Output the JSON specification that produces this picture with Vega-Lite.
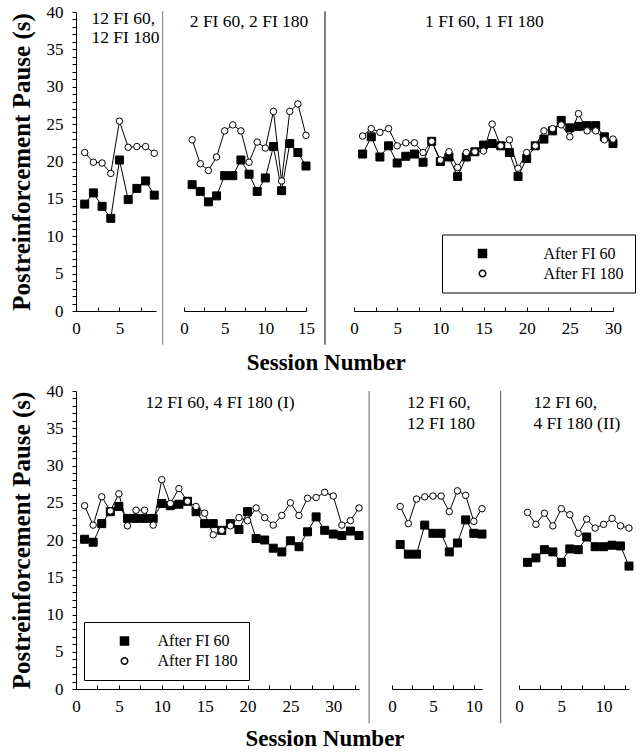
{
"$schema": "https://vega.github.io/schema/vega-lite/v6.json",
"padding": {"left": 8, "top": 3, "right": 5, "bottom": 5},
"background": "white",
"config": {
  "view": {"stroke": null},
  "font": "Liberation Serif",
  "axis": {"grid": false, "domainColor": "black", "tickColor": "black", "labelColor": "black", "labelFont": "Liberation Serif", "labelFontSize": 17, "labelFlush": false, "labelOverlap": false, "domainWidth": 1, "tickWidth": 1}
},
"datasets": {
"p1": [
{"session":1,"series":"After FI 60","pause":14.3},{"session":2,"series":"After FI 60","pause":15.8},{"session":3,"series":"After FI 60","pause":14.0},{"session":4,"series":"After FI 60","pause":12.4},{"session":5,"series":"After FI 60","pause":20.2},{"session":6,"series":"After FI 60","pause":14.9},{"session":7,"series":"After FI 60","pause":16.4},{"session":8,"series":"After FI 60","pause":17.4},{"session":9,"series":"After FI 60","pause":15.5},
{"session":1,"series":"After FI 180","pause":21.2},{"session":2,"series":"After FI 180","pause":19.9},{"session":3,"series":"After FI 180","pause":19.8},{"session":4,"series":"After FI 180","pause":18.4},{"session":5,"series":"After FI 180","pause":25.4},{"session":6,"series":"After FI 180","pause":21.9},{"session":7,"series":"After FI 180","pause":22.0},{"session":8,"series":"After FI 180","pause":22.0},{"session":9,"series":"After FI 180","pause":21.1}
],
"p2": [
{"session":1,"series":"After FI 60","pause":16.9},{"session":2,"series":"After FI 60","pause":16.0},{"session":3,"series":"After FI 60","pause":14.6},{"session":4,"series":"After FI 60","pause":15.4},{"session":5,"series":"After FI 60","pause":18.1},{"session":6,"series":"After FI 60","pause":18.1},{"session":7,"series":"After FI 60","pause":20.2},{"session":8,"series":"After FI 60","pause":18.3},{"session":9,"series":"After FI 60","pause":16.0},{"session":10,"series":"After FI 60","pause":17.8},{"session":11,"series":"After FI 60","pause":22.0},{"session":12,"series":"After FI 60","pause":16.1},{"session":13,"series":"After FI 60","pause":22.4},{"session":14,"series":"After FI 60","pause":21.2},{"session":15,"series":"After FI 60","pause":19.4},
{"session":1,"series":"After FI 180","pause":22.9},{"session":2,"series":"After FI 180","pause":19.7},{"session":3,"series":"After FI 180","pause":18.8},{"session":4,"series":"After FI 180","pause":20.6},{"session":5,"series":"After FI 180","pause":24.1},{"session":6,"series":"After FI 180","pause":24.9},{"session":7,"series":"After FI 180","pause":24.1},{"session":8,"series":"After FI 180","pause":19.9},{"session":9,"series":"After FI 180","pause":22.6},{"session":10,"series":"After FI 180","pause":21.8},{"session":11,"series":"After FI 180","pause":26.7},{"session":12,"series":"After FI 180","pause":17.4},{"session":13,"series":"After FI 180","pause":26.7},{"session":14,"series":"After FI 180","pause":27.7},{"session":15,"series":"After FI 180","pause":23.5}
],
"p3": [
{"session":1,"series":"After FI 60","pause":21.0},{"session":2,"series":"After FI 60","pause":23.3},{"session":3,"series":"After FI 60","pause":20.6},{"session":4,"series":"After FI 60","pause":22.1},{"session":5,"series":"After FI 60","pause":19.8},{"session":6,"series":"After FI 60","pause":20.7},{"session":7,"series":"After FI 60","pause":21.0},{"session":8,"series":"After FI 60","pause":19.9},{"session":9,"series":"After FI 60","pause":22.7},{"session":10,"series":"After FI 60","pause":20.0},{"session":11,"series":"After FI 60","pause":20.6},{"session":12,"series":"After FI 60","pause":18.0},{"session":13,"series":"After FI 60","pause":20.6},{"session":14,"series":"After FI 60","pause":21.3},{"session":15,"series":"After FI 60","pause":22.2},{"session":16,"series":"After FI 60","pause":22.4},{"session":17,"series":"After FI 60","pause":22.1},{"session":18,"series":"After FI 60","pause":21.2},{"session":19,"series":"After FI 60","pause":18.0},{"session":20,"series":"After FI 60","pause":20.4},{"session":21,"series":"After FI 60","pause":22.1},{"session":22,"series":"After FI 60","pause":23.0},{"session":23,"series":"After FI 60","pause":24.1},{"session":24,"series":"After FI 60","pause":25.5},{"session":25,"series":"After FI 60","pause":24.5},{"session":26,"series":"After FI 60","pause":24.7},{"session":27,"series":"After FI 60","pause":24.8},{"session":28,"series":"After FI 60","pause":24.8},{"session":29,"series":"After FI 60","pause":23.3},{"session":30,"series":"After FI 60","pause":22.4},
{"session":1,"series":"After FI 180","pause":23.4},{"session":2,"series":"After FI 180","pause":24.4},{"session":3,"series":"After FI 180","pause":23.9},{"session":4,"series":"After FI 180","pause":24.4},{"session":5,"series":"After FI 180","pause":22.1},{"session":6,"series":"After FI 180","pause":22.5},{"session":7,"series":"After FI 180","pause":22.5},{"session":8,"series":"After FI 180","pause":21.2},{"session":9,"series":"After FI 180","pause":22.7},{"session":10,"series":"After FI 180","pause":20.2},{"session":11,"series":"After FI 180","pause":21.3},{"session":12,"series":"After FI 180","pause":19.2},{"session":13,"series":"After FI 180","pause":21.2},{"session":14,"series":"After FI 180","pause":21.3},{"session":15,"series":"After FI 180","pause":21.4},{"session":16,"series":"After FI 180","pause":25.0},{"session":17,"series":"After FI 180","pause":22.1},{"session":18,"series":"After FI 180","pause":22.9},{"session":19,"series":"After FI 180","pause":19.1},{"session":20,"series":"After FI 180","pause":21.2},{"session":21,"series":"After FI 180","pause":22.1},{"session":22,"series":"After FI 180","pause":24.1},{"session":23,"series":"After FI 180","pause":24.4},{"session":24,"series":"After FI 180","pause":24.9},{"session":25,"series":"After FI 180","pause":23.3},{"session":26,"series":"After FI 180","pause":26.4},{"session":27,"series":"After FI 180","pause":24.1},{"session":28,"series":"After FI 180","pause":24.1},{"session":29,"series":"After FI 180","pause":22.9},{"session":30,"series":"After FI 180","pause":23.0}
],
"p4": [
{"session":1,"series":"After FI 60","pause":20.1},{"session":2,"series":"After FI 60","pause":19.7},{"session":3,"series":"After FI 60","pause":22.2},{"session":4,"series":"After FI 60","pause":23.8},{"session":5,"series":"After FI 60","pause":24.5},{"session":6,"series":"After FI 60","pause":22.9},{"session":7,"series":"After FI 60","pause":22.9},{"session":8,"series":"After FI 60","pause":22.9},{"session":9,"series":"After FI 60","pause":22.9},{"session":10,"series":"After FI 60","pause":24.9},{"session":11,"series":"After FI 60","pause":24.6},{"session":12,"series":"After FI 60","pause":24.8},{"session":13,"series":"After FI 60","pause":25.2},{"session":14,"series":"After FI 60","pause":23.8},{"session":15,"series":"After FI 60","pause":22.2},{"session":16,"series":"After FI 60","pause":22.2},{"session":17,"series":"After FI 60","pause":21.3},{"session":18,"series":"After FI 60","pause":22.2},{"session":19,"series":"After FI 60","pause":21.4},{"session":20,"series":"After FI 60","pause":23.8},{"session":21,"series":"After FI 60","pause":20.2},{"session":22,"series":"After FI 60","pause":20.0},{"session":23,"series":"After FI 60","pause":18.9},{"session":24,"series":"After FI 60","pause":18.4},{"session":25,"series":"After FI 60","pause":19.9},{"session":26,"series":"After FI 60","pause":19.1},{"session":27,"series":"After FI 60","pause":21.1},{"session":28,"series":"After FI 60","pause":23.1},{"session":29,"series":"After FI 60","pause":21.3},{"session":30,"series":"After FI 60","pause":20.8},{"session":31,"series":"After FI 60","pause":20.6},{"session":32,"series":"After FI 60","pause":21.2},{"session":33,"series":"After FI 60","pause":20.6},
{"session":1,"series":"After FI 180","pause":24.6},{"session":2,"series":"After FI 180","pause":22.0},{"session":3,"series":"After FI 180","pause":25.8},{"session":4,"series":"After FI 180","pause":23.9},{"session":5,"series":"After FI 180","pause":26.2},{"session":6,"series":"After FI 180","pause":21.9},{"session":7,"series":"After FI 180","pause":24.0},{"session":8,"series":"After FI 180","pause":24.0},{"session":9,"series":"After FI 180","pause":22.0},{"session":10,"series":"After FI 180","pause":28.1},{"session":11,"series":"After FI 180","pause":24.9},{"session":12,"series":"After FI 180","pause":26.9},{"session":13,"series":"After FI 180","pause":25.2},{"session":14,"series":"After FI 180","pause":24.5},{"session":15,"series":"After FI 180","pause":23.6},{"session":16,"series":"After FI 180","pause":20.7},{"session":17,"series":"After FI 180","pause":21.3},{"session":18,"series":"After FI 180","pause":21.9},{"session":19,"series":"After FI 180","pause":23.0},{"session":20,"series":"After FI 180","pause":22.6},{"session":21,"series":"After FI 180","pause":24.3},{"session":22,"series":"After FI 180","pause":23.0},{"session":23,"series":"After FI 180","pause":22.0},{"session":24,"series":"After FI 180","pause":23.3},{"session":25,"series":"After FI 180","pause":25.0},{"session":26,"series":"After FI 180","pause":23.3},{"session":27,"series":"After FI 180","pause":25.6},{"session":28,"series":"After FI 180","pause":25.7},{"session":29,"series":"After FI 180","pause":26.4},{"session":30,"series":"After FI 180","pause":25.9},{"session":31,"series":"After FI 180","pause":22.0},{"session":32,"series":"After FI 180","pause":22.6},{"session":33,"series":"After FI 180","pause":24.3}
],
"p5": [
{"session":1,"series":"After FI 60","pause":19.4},{"session":2,"series":"After FI 60","pause":18.1},{"session":3,"series":"After FI 60","pause":18.1},{"session":4,"series":"After FI 60","pause":22.0},{"session":5,"series":"After FI 60","pause":20.9},{"session":6,"series":"After FI 60","pause":20.9},{"session":7,"series":"After FI 60","pause":18.4},{"session":8,"series":"After FI 60","pause":19.6},{"session":9,"series":"After FI 60","pause":22.7},{"session":10,"series":"After FI 60","pause":20.9},{"session":11,"series":"After FI 60","pause":20.8},
{"session":1,"series":"After FI 180","pause":24.5},{"session":2,"series":"After FI 180","pause":22.2},{"session":3,"series":"After FI 180","pause":25.5},{"session":4,"series":"After FI 180","pause":25.8},{"session":5,"series":"After FI 180","pause":25.9},{"session":6,"series":"After FI 180","pause":25.9},{"session":7,"series":"After FI 180","pause":23.8},{"session":8,"series":"After FI 180","pause":26.6},{"session":9,"series":"After FI 180","pause":26.0},{"session":10,"series":"After FI 180","pause":22.5},{"session":11,"series":"After FI 180","pause":24.2}
],
"p6": [
{"session":1,"series":"After FI 60","pause":17.0},{"session":2,"series":"After FI 60","pause":17.6},{"session":3,"series":"After FI 60","pause":18.7},{"session":4,"series":"After FI 60","pause":18.4},{"session":5,"series":"After FI 60","pause":17.0},{"session":6,"series":"After FI 60","pause":18.8},{"session":7,"series":"After FI 60","pause":18.7},{"session":8,"series":"After FI 60","pause":20.4},{"session":9,"series":"After FI 60","pause":19.1},{"session":10,"series":"After FI 60","pause":19.1},{"session":11,"series":"After FI 60","pause":19.3},{"session":12,"series":"After FI 60","pause":19.2},{"session":13,"series":"After FI 60","pause":16.5},
{"session":1,"series":"After FI 180","pause":23.7},{"session":2,"series":"After FI 180","pause":22.1},{"session":3,"series":"After FI 180","pause":23.6},{"session":4,"series":"After FI 180","pause":21.9},{"session":5,"series":"After FI 180","pause":24.2},{"session":6,"series":"After FI 180","pause":23.4},{"session":7,"series":"After FI 180","pause":20.9},{"session":8,"series":"After FI 180","pause":22.8},{"session":9,"series":"After FI 180","pause":21.6},{"session":10,"series":"After FI 180","pause":22.1},{"session":11,"series":"After FI 180","pause":22.9},{"session":12,"series":"After FI 180","pause":21.9},{"session":13,"series":"After FI 180","pause":21.6}
]
},
"spacing": 7,
"resolve": {"scale": {"shape": "independent", "fill": "independent", "size": "independent"}, "legend": {"shape": "independent", "fill": "independent", "size": "independent"}},
"vconcat": [
{
 "bounds": "flush",
 "spacing": 28,
 "resolve": {"scale": {"shape": "independent", "fill": "independent", "size": "independent"}, "legend": {"shape": "independent", "fill": "independent", "size": "independent"}},
 "title": {"text": "Session Number", "orient": "bottom", "anchor": "middle", "offset": 6.6, "dx": 4, "font": "Liberation Serif", "fontSize": 23, "fontWeight": "bold", "color": "black"},
 "hconcat": [
  {
   "width": 80, "height": 299,
   "layer": [
     {"data": {"name": "p1"}, "mark": {"type": "line", "color": "black", "strokeWidth": 1},
      "encoding": {
        "x": {"field": "session", "type": "quantitative", "scale": {"domain": [0, 9.2], "nice": false, "zero": false}, "axis": {"title": null, "values": [0, 2.5, 5, 7.5], "labelExpr": "datum.value % 5 === 0 ? datum.label : ''", "labelOverlap": false, "tickSize": -4, "labelPadding": 13}},
        "y": {"field": "pause", "type": "quantitative", "scale": {"domain": [0, 40], "nice": false, "zero": false}, "axis": {"title": "Postreinforcement Pause (s)", "titleFont": "Liberation Serif", "titleFontSize": 25, "titleFontWeight": "bold", "titleColor": "black", "titlePadding": 12, "values": [0,1,2,3,4,5,6,7,8,9,10,11,12,13,14,15,16,17,18,19,20,21,22,23,24,25,26,27,28,29,30,31,32,33,34,35,36,37,38,39,40], "labelExpr": "datum.value % 5 === 0 ? datum.label : ''", "labelOverlap": false, "tickSize": 4, "labelPadding": 9}},
        "detail": {"field": "series"}}},
     {"data": {"name": "p1"}, "mark": {"type": "point", "filled": true, "stroke": "black", "strokeWidth": 1, "opacity": 1},
      "encoding": {
        "x": {"field": "session", "type": "quantitative", "axis": {"title": null, "values": [0, 2.5, 5, 7.5], "labelExpr": "datum.value % 5 === 0 ? datum.label : ''", "labelOverlap": false, "tickSize": -4, "labelPadding": 13}},
        "y": {"field": "pause", "type": "quantitative", "axis": {"title": "Postreinforcement Pause (s)", "titleFont": "Liberation Serif", "titleFontSize": 25, "titleFontWeight": "bold", "titleColor": "black", "titlePadding": 12, "values": [0,1,2,3,4,5,6,7,8,9,10,11,12,13,14,15,16,17,18,19,20,21,22,23,24,25,26,27,28,29,30,31,32,33,34,35,36,37,38,39,40], "labelExpr": "datum.value % 5 === 0 ? datum.label : ''", "labelOverlap": false, "tickSize": 4, "labelPadding": 9}},
        "shape": {"field": "series", "type": "nominal", "scale": {"domain": ["After FI 60", "After FI 180"], "range": ["square", "circle"]}, "legend": null},
        "fill": {"field": "series", "type": "nominal", "scale": {"domain": ["After FI 60", "After FI 180"], "range": ["black", "white"]}, "legend": null},
        "size": {"field": "series", "type": "ordinal", "scale": {"domain": ["After FI 60", "After FI 180"], "range": [64, 42]}, "legend": null}}},
     {"data": {"values": [{}]}, "mark": {"type": "text", "font": "Liberation Serif", "fontSize": 17.5, "align": "left", "baseline": "alphabetic", "color": "black", "lineHeight": 19},
      "encoding": {
        "x": {"datum": 1.78, "axis": {"title": null, "values": [0, 2.5, 5, 7.5], "labelExpr": "datum.value % 5 === 0 ? datum.label : ''", "labelOverlap": false, "tickSize": -4, "labelPadding": 13}},
        "y": {"datum": 38.4, "axis": {"title": "Postreinforcement Pause (s)", "titleFont": "Liberation Serif", "titleFontSize": 25, "titleFontWeight": "bold", "titleColor": "black", "titlePadding": 12, "values": [0,1,2,3,4,5,6,7,8,9,10,11,12,13,14,15,16,17,18,19,20,21,22,23,24,25,26,27,28,29,30,31,32,33,34,35,36,37,38,39,40], "labelExpr": "datum.value % 5 === 0 ? datum.label : ''", "labelOverlap": false, "tickSize": 4, "labelPadding": 9}},
        "text": {"value": ["12 FI 60,", "12 FI 180"]}}}
   ]
  },
  {
   "bounds": "flush",
   "spacing": 48,
   "resolve": {"scale": {"shape": "independent", "fill": "independent", "size": "independent"}, "legend": {"shape": "independent", "fill": "independent", "size": "independent"}},
   "hconcat": [
    {
     "width": 122, "height": 299,
     "layer": [
       {"data": {"values": [{}]}, "mark": {"type": "rule", "color": "#777777", "strokeWidth": 1},
        "encoding": {"x": {"datum": -2.62, "axis": {"title": null, "values": [0, 2.5, 5, 7.5, 10, 12.5, 15], "labelExpr": "datum.value % 5 === 0 ? datum.label : ''", "labelOverlap": false, "tickSize": -4, "labelPadding": 13}}, "y": {"datum": 40.1, "axis": null}, "y2": {"datum": -4.5}}},
       {"data": {"name": "p2"}, "mark": {"type": "line", "color": "black", "strokeWidth": 1},
        "encoding": {
          "x": {"field": "session", "type": "quantitative", "scale": {"domain": [0, 15], "nice": false, "zero": false}, "axis": {"title": null, "values": [0, 2.5, 5, 7.5, 10, 12.5, 15], "labelExpr": "datum.value % 5 === 0 ? datum.label : ''", "labelOverlap": false, "tickSize": -4, "labelPadding": 13}},
          "y": {"field": "pause", "type": "quantitative", "scale": {"domain": [0, 40], "nice": false, "zero": false}, "axis": null},
          "detail": {"field": "series"}}},
       {"data": {"name": "p2"}, "mark": {"type": "point", "filled": true, "stroke": "black", "strokeWidth": 1, "opacity": 1},
        "encoding": {
          "x": {"field": "session", "type": "quantitative", "axis": {"title": null, "values": [0, 2.5, 5, 7.5, 10, 12.5, 15], "labelExpr": "datum.value % 5 === 0 ? datum.label : ''", "labelOverlap": false, "tickSize": -4, "labelPadding": 13}},
          "y": {"field": "pause", "type": "quantitative", "axis": null},
          "shape": {"field": "series", "type": "nominal", "scale": {"domain": ["After FI 60", "After FI 180"], "range": ["square", "circle"]}, "legend": null},
          "fill": {"field": "series", "type": "nominal", "scale": {"domain": ["After FI 60", "After FI 180"], "range": ["black", "white"]}, "legend": null},
          "size": {"field": "series", "type": "ordinal", "scale": {"domain": ["After FI 60", "After FI 180"], "range": [64, 42]}, "legend": null}}},
       {"data": {"values": [{}]}, "mark": {"type": "text", "font": "Liberation Serif", "fontSize": 17.5, "align": "center", "baseline": "alphabetic", "color": "black"},
        "encoding": {"x": {"datum": 8.0, "axis": {"title": null, "values": [0, 2.5, 5, 7.5, 10, 12.5, 15], "labelExpr": "datum.value % 5 === 0 ? datum.label : ''", "labelOverlap": false, "tickSize": -4, "labelPadding": 13}}, "y": {"datum": 38.0, "axis": null}, "text": {"value": "2 FI 60, 2 FI 180"}}}
     ]
    },
    {
     "width": 259, "height": 299,
     "layer": [
       {"data": {"values": [{}]}, "mark": {"type": "rule", "color": "black", "strokeWidth": 1},
        "encoding": {"x": {"datum": -3.36, "axis": {"title": null, "values": [0, 2.5, 5, 7.5, 10, 12.5, 15, 17.5, 20, 22.5, 25, 27.5, 30], "labelExpr": "datum.value % 5 === 0 ? datum.label : ''", "labelOverlap": false, "tickSize": -4, "labelPadding": 13}}, "y": {"datum": 40.1, "axis": null}, "y2": {"datum": -4.5}}},
       {"data": {"name": "p3"}, "mark": {"type": "line", "color": "black", "strokeWidth": 1},
        "encoding": {
          "x": {"field": "session", "type": "quantitative", "scale": {"domain": [0, 30], "nice": false, "zero": false}, "axis": {"title": null, "values": [0, 2.5, 5, 7.5, 10, 12.5, 15, 17.5, 20, 22.5, 25, 27.5, 30], "labelExpr": "datum.value % 5 === 0 ? datum.label : ''", "labelOverlap": false, "tickSize": -4, "labelPadding": 13}},
          "y": {"field": "pause", "type": "quantitative", "scale": {"domain": [0, 40], "nice": false, "zero": false}, "axis": null},
          "detail": {"field": "series"}}},
       {"data": {"name": "p3"}, "mark": {"type": "point", "filled": true, "stroke": "black", "strokeWidth": 1, "opacity": 1},
        "encoding": {
          "x": {"field": "session", "type": "quantitative", "axis": {"title": null, "values": [0, 2.5, 5, 7.5, 10, 12.5, 15, 17.5, 20, 22.5, 25, 27.5, 30], "labelExpr": "datum.value % 5 === 0 ? datum.label : ''", "labelOverlap": false, "tickSize": -4, "labelPadding": 13}},
          "y": {"field": "pause", "type": "quantitative", "axis": null},
          "shape": {"field": "series", "type": "nominal", "scale": {"domain": ["After FI 60", "After FI 180"], "range": ["square", "circle"]},
            "legend": {"orient": "none", "legendX": 88, "legendY": 222.5, "title": null, "strokeColor": "black", "padding": 11, "labelFont": "Liberation Serif", "labelFontSize": 16, "labelColor": "black", "symbolOffset": 21.5, "labelOffset": 53, "rowPadding": 4}},
          "fill": {"field": "series", "type": "nominal", "scale": {"domain": ["After FI 60", "After FI 180"], "range": ["black", "white"]},
            "legend": {"orient": "none", "legendX": 88, "legendY": 222.5, "title": null, "strokeColor": "black", "padding": 11, "labelFont": "Liberation Serif", "labelFontSize": 16, "labelColor": "black", "symbolOffset": 21.5, "labelOffset": 53, "rowPadding": 4}},
          "size": {"field": "series", "type": "ordinal", "scale": {"domain": ["After FI 60", "After FI 180"], "range": [64, 42]},
            "legend": {"orient": "none", "legendX": 88, "legendY": 222.5, "title": null, "strokeColor": "black", "padding": 11, "labelFont": "Liberation Serif", "labelFontSize": 16, "labelColor": "black", "symbolOffset": 21.5, "labelOffset": 53, "rowPadding": 4}}}},
       {"data": {"values": [{}]}, "mark": {"type": "text", "font": "Liberation Serif", "fontSize": 17.5, "align": "center", "baseline": "alphabetic", "color": "black"},
        "encoding": {"x": {"datum": 15.1, "axis": {"title": null, "values": [0, 2.5, 5, 7.5, 10, 12.5, 15, 17.5, 20, 22.5, 25, 27.5, 30], "labelExpr": "datum.value % 5 === 0 ? datum.label : ''", "labelOverlap": false, "tickSize": -4, "labelPadding": 13}}, "y": {"datum": 38.0, "axis": null}, "text": {"value": "1 FI 60, 1 FI 180"}}}
     ]
    }
   ]
  }
 ]
},
{
 "bounds": "flush",
 "spacing": 33,
 "resolve": {"scale": {"shape": "independent", "fill": "independent", "size": "independent"}, "legend": {"shape": "independent", "fill": "independent", "size": "independent"}},
 "title": {"text": "Session Number", "orient": "bottom", "anchor": "middle", "offset": 4, "dx": 3, "font": "Liberation Serif", "fontSize": 23, "fontWeight": "bold", "color": "black"},
 "hconcat": [
  {
   "width": 283, "height": 298,
   "layer": [
     {"data": {"name": "p4"}, "mark": {"type": "line", "color": "black", "strokeWidth": 1},
      "encoding": {
        "x": {"field": "session", "type": "quantitative", "scale": {"domain": [0, 33], "nice": false, "zero": false}, "axis": {"title": null, "values": [0, 2.5, 5, 7.5, 10, 12.5, 15, 17.5, 20, 22.5, 25, 27.5, 30, 32.5], "labelExpr": "datum.value % 5 === 0 ? datum.label : ''", "labelOverlap": false, "tickSize": -4, "labelPadding": 13}},
        "y": {"field": "pause", "type": "quantitative", "scale": {"domain": [0, 40], "nice": false, "zero": false}, "axis": {"title": "Postreinforcement Pause (s)", "titleFont": "Liberation Serif", "titleFontSize": 25, "titleFontWeight": "bold", "titleColor": "black", "titlePadding": 12, "values": [0,1,2,3,4,5,6,7,8,9,10,11,12,13,14,15,16,17,18,19,20,21,22,23,24,25,26,27,28,29,30,31,32,33,34,35,36,37,38,39,40], "labelExpr": "datum.value % 5 === 0 ? datum.label : ''", "labelOverlap": false, "tickSize": 4, "labelPadding": 9}},
        "detail": {"field": "series"}}},
     {"data": {"name": "p4"}, "mark": {"type": "point", "filled": true, "stroke": "black", "strokeWidth": 1, "opacity": 1},
      "encoding": {
        "x": {"field": "session", "type": "quantitative", "axis": {"title": null, "values": [0, 2.5, 5, 7.5, 10, 12.5, 15, 17.5, 20, 22.5, 25, 27.5, 30, 32.5], "labelExpr": "datum.value % 5 === 0 ? datum.label : ''", "labelOverlap": false, "tickSize": -4, "labelPadding": 13}},
        "y": {"field": "pause", "type": "quantitative", "axis": {"title": "Postreinforcement Pause (s)", "titleFont": "Liberation Serif", "titleFontSize": 25, "titleFontWeight": "bold", "titleColor": "black", "titlePadding": 12, "values": [0,1,2,3,4,5,6,7,8,9,10,11,12,13,14,15,16,17,18,19,20,21,22,23,24,25,26,27,28,29,30,31,32,33,34,35,36,37,38,39,40], "labelExpr": "datum.value % 5 === 0 ? datum.label : ''", "labelOverlap": false, "tickSize": 4, "labelPadding": 9}},
        "shape": {"field": "series", "type": "nominal", "scale": {"domain": ["After FI 60", "After FI 180"], "range": ["square", "circle"]},
          "legend": {"orient": "none", "legendX": 8, "legendY": 231, "title": null, "strokeColor": "black", "padding": 11, "labelFont": "Liberation Serif", "labelFontSize": 16, "labelColor": "black", "symbolOffset": 21.5, "labelOffset": 25, "rowPadding": 4}},
        "fill": {"field": "series", "type": "nominal", "scale": {"domain": ["After FI 60", "After FI 180"], "range": ["black", "white"]},
          "legend": {"orient": "none", "legendX": 8, "legendY": 231, "title": null, "strokeColor": "black", "padding": 11, "labelFont": "Liberation Serif", "labelFontSize": 16, "labelColor": "black", "symbolOffset": 21.5, "labelOffset": 25, "rowPadding": 4}},
        "size": {"field": "series", "type": "ordinal", "scale": {"domain": ["After FI 60", "After FI 180"], "range": [64, 42]},
          "legend": {"orient": "none", "legendX": 8, "legendY": 231, "title": null, "strokeColor": "black", "padding": 11, "labelFont": "Liberation Serif", "labelFontSize": 16, "labelColor": "black", "symbolOffset": 21.5, "labelOffset": 25, "rowPadding": 4}}}},
     {"data": {"values": [{}]}, "mark": {"type": "text", "font": "Liberation Serif", "fontSize": 17.5, "align": "center", "baseline": "alphabetic", "color": "black"},
      "encoding": {
        "x": {"datum": 16.8, "axis": {"title": null, "values": [0, 2.5, 5, 7.5, 10, 12.5, 15, 17.5, 20, 22.5, 25, 27.5, 30, 32.5], "labelExpr": "datum.value % 5 === 0 ? datum.label : ''", "labelOverlap": false, "tickSize": -4, "labelPadding": 13}},
        "y": {"datum": 37.7, "axis": {"title": "Postreinforcement Pause (s)", "titleFont": "Liberation Serif", "titleFontSize": 25, "titleFontWeight": "bold", "titleColor": "black", "titlePadding": 12, "values": [0,1,2,3,4,5,6,7,8,9,10,11,12,13,14,15,16,17,18,19,20,21,22,23,24,25,26,27,28,29,30,31,32,33,34,35,36,37,38,39,40], "labelExpr": "datum.value % 5 === 0 ? datum.label : ''", "labelOverlap": false, "tickSize": 4, "labelPadding": 9}},
        "text": {"value": "12 FI 60, 4 FI 180 (I)"}}}
   ]
  },
  {
   "bounds": "flush",
   "spacing": 37,
   "resolve": {"scale": {"shape": "independent", "fill": "independent", "size": "independent"}, "legend": {"shape": "independent", "fill": "independent", "size": "independent"}},
   "hconcat": [
    {
     "width": 90, "height": 298,
     "layer": [
       {"data": {"values": [{}]}, "mark": {"type": "rule", "color": "#666666", "strokeWidth": 1},
        "encoding": {"x": {"datum": -2.8, "axis": {"title": null, "values": [0, 2.5, 5, 7.5, 10], "labelExpr": "datum.value % 5 === 0 ? datum.label : ''", "labelOverlap": false, "tickSize": -4, "labelPadding": 13}}, "y": {"datum": 40.0, "axis": null}, "y2": {"datum": -4.6}}},
       {"data": {"name": "p5"}, "mark": {"type": "line", "color": "black", "strokeWidth": 1},
        "encoding": {
          "x": {"field": "session", "type": "quantitative", "scale": {"domain": [0, 11], "nice": false, "zero": false}, "axis": {"title": null, "values": [0, 2.5, 5, 7.5, 10], "labelExpr": "datum.value % 5 === 0 ? datum.label : ''", "labelOverlap": false, "tickSize": -4, "labelPadding": 13}},
          "y": {"field": "pause", "type": "quantitative", "scale": {"domain": [0, 40], "nice": false, "zero": false}, "axis": null},
          "detail": {"field": "series"}}},
       {"data": {"name": "p5"}, "mark": {"type": "point", "filled": true, "stroke": "black", "strokeWidth": 1, "opacity": 1},
        "encoding": {
          "x": {"field": "session", "type": "quantitative", "axis": {"title": null, "values": [0, 2.5, 5, 7.5, 10], "labelExpr": "datum.value % 5 === 0 ? datum.label : ''", "labelOverlap": false, "tickSize": -4, "labelPadding": 13}},
          "y": {"field": "pause", "type": "quantitative", "axis": null},
          "shape": {"field": "series", "type": "nominal", "scale": {"domain": ["After FI 60", "After FI 180"], "range": ["square", "circle"]}, "legend": null},
          "fill": {"field": "series", "type": "nominal", "scale": {"domain": ["After FI 60", "After FI 180"], "range": ["black", "white"]}, "legend": null},
          "size": {"field": "series", "type": "ordinal", "scale": {"domain": ["After FI 60", "After FI 180"], "range": [64, 42]}, "legend": null}}},
       {"data": {"values": [{}]}, "mark": {"type": "text", "font": "Liberation Serif", "fontSize": 17.5, "align": "left", "baseline": "alphabetic", "color": "black", "lineHeight": 21},
        "encoding": {"x": {"datum": 1.84, "axis": {"title": null, "values": [0, 2.5, 5, 7.5, 10], "labelExpr": "datum.value % 5 === 0 ? datum.label : ''", "labelOverlap": false, "tickSize": -4, "labelPadding": 13}}, "y": {"datum": 37.7, "axis": null}, "text": {"value": ["12 FI 60,", "12 FI 180"]}}}
     ]
    },
    {
     "width": 110, "height": 298,
     "layer": [
       {"data": {"values": [{}]}, "mark": {"type": "rule", "color": "#555555", "strokeWidth": 1},
        "encoding": {"x": {"datum": -2.17, "axis": {"title": null, "values": [0, 2.5, 5, 7.5, 10, 12.5], "labelExpr": "datum.value % 5 === 0 ? datum.label : ''", "labelOverlap": false, "tickSize": -4, "labelPadding": 13}}, "y": {"datum": 40.0, "axis": null}, "y2": {"datum": -4.6}}},
       {"data": {"name": "p6"}, "mark": {"type": "line", "color": "black", "strokeWidth": 1},
        "encoding": {
          "x": {"field": "session", "type": "quantitative", "scale": {"domain": [0, 13], "nice": false, "zero": false}, "axis": {"title": null, "values": [0, 2.5, 5, 7.5, 10, 12.5], "labelExpr": "datum.value % 5 === 0 ? datum.label : ''", "labelOverlap": false, "tickSize": -4, "labelPadding": 13}},
          "y": {"field": "pause", "type": "quantitative", "scale": {"domain": [0, 40], "nice": false, "zero": false}, "axis": null},
          "detail": {"field": "series"}}},
       {"data": {"name": "p6"}, "mark": {"type": "point", "filled": true, "stroke": "black", "strokeWidth": 1, "opacity": 1},
        "encoding": {
          "x": {"field": "session", "type": "quantitative", "axis": {"title": null, "values": [0, 2.5, 5, 7.5, 10, 12.5], "labelExpr": "datum.value % 5 === 0 ? datum.label : ''", "labelOverlap": false, "tickSize": -4, "labelPadding": 13}},
          "y": {"field": "pause", "type": "quantitative", "axis": null},
          "shape": {"field": "series", "type": "nominal", "scale": {"domain": ["After FI 60", "After FI 180"], "range": ["square", "circle"]}, "legend": null},
          "fill": {"field": "series", "type": "nominal", "scale": {"domain": ["After FI 60", "After FI 180"], "range": ["black", "white"]}, "legend": null},
          "size": {"field": "series", "type": "ordinal", "scale": {"domain": ["After FI 60", "After FI 180"], "range": [64, 42]}, "legend": null}}},
       {"data": {"values": [{}]}, "mark": {"type": "text", "font": "Liberation Serif", "fontSize": 17.5, "align": "left", "baseline": "alphabetic", "color": "black", "lineHeight": 21},
        "encoding": {"x": {"datum": 1.7, "axis": {"title": null, "values": [0, 2.5, 5, 7.5, 10, 12.5], "labelExpr": "datum.value % 5 === 0 ? datum.label : ''", "labelOverlap": false, "tickSize": -4, "labelPadding": 13}}, "y": {"datum": 37.7, "axis": null}, "text": {"value": ["12 FI 60,", "4 FI 180 (II)"]}}}
     ]
    }
   ]
  }
 ]
}
]
}
